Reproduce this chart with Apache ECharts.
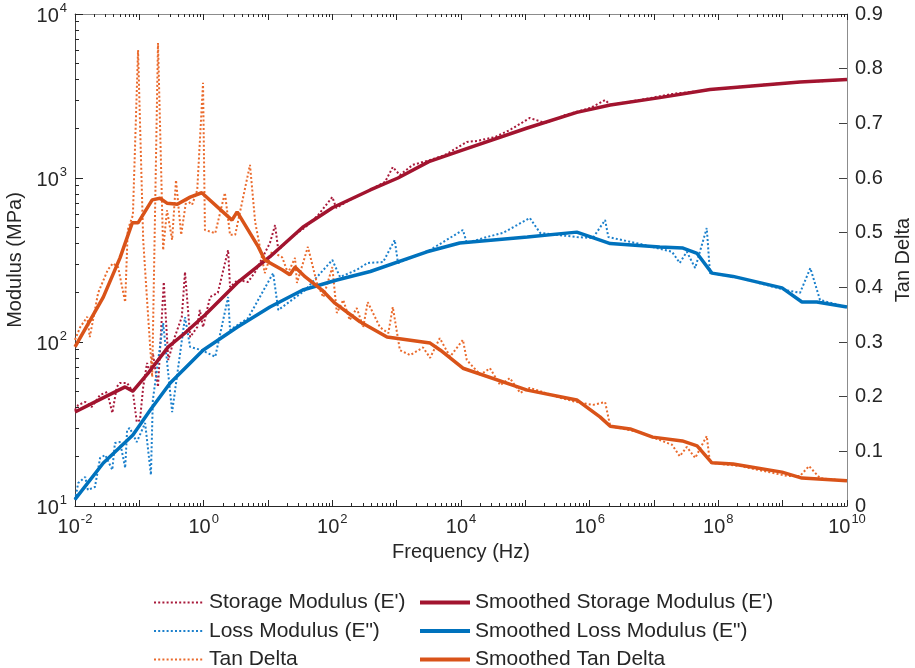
<!DOCTYPE html>
<html>
<head>
<meta charset="utf-8">
<script src="https://cdn.jsdelivr.net/npm/echarts@6/dist/echarts.min.js"></script>
<style>
html, body { margin: 0; padding: 0; background: #fff; }
#chart { width: 915px; height: 668px; }
</style>
</head>
<body>
<div id="chart"></div>
<script>
// 数据：每一对为 [log10(频率 Hz), log10(模量 MPa)] 或 [log10(频率 Hz), tanδ]
const storageRaw = [
    [-2.00, 1.585], [-1.95, 1.616], [-1.84, 1.634], [-1.74, 1.604], [-1.61, 1.677], [-1.50, 1.695],
    [-1.42, 1.567], [-1.35, 1.726], [-1.30, 1.750], [-1.19, 1.750], [-1.10, 1.695], [-1.04, 1.512],
    [-0.99, 1.524], [-0.94, 1.726], [-0.88, 1.872], [-0.83, 1.810], [-0.79, 1.933], [-0.71, 1.726],
    [-0.62, 2.366], [-0.55, 1.890], [-0.45, 2.030], [-0.34, 2.152], [-0.29, 2.427], [-0.21, 2.030],
    [-0.10, 2.091], [-0.06, 2.195], [-0.01, 2.091], [0.10, 2.274], [0.22, 2.300], [0.38, 2.561],
    [0.41, 2.335], [0.53, 2.378], [0.69, 2.366], [0.80, 2.427], [1.03, 2.604], [1.11, 2.713],
    [1.16, 2.561], [1.37, 2.640], [1.58, 2.700], [1.78, 2.774], [2.00, 2.884], [2.06, 2.817],
    [2.27, 2.866], [2.59, 2.927], [2.82, 2.976], [2.94, 3.067], [3.05, 3.018], [3.25, 3.080],
    [3.52, 3.110], [3.75, 3.140], [4.09, 3.220], [4.25, 3.226], [4.53, 3.250], [4.76, 3.293],
    [5.07, 3.366], [5.31, 3.335], [5.62, 3.384], [6.01, 3.427], [6.24, 3.476], [6.32, 3.445],
    [6.78, 3.476], [7.28, 3.512], [7.40, 3.518], [7.72, 3.530], [7.90, 3.540], [8.65, 3.567],
    [9.27, 3.585], [9.58, 3.590], [10.00, 3.600]
];
const lossRaw = [
    [-2.00, 1.037], [-1.95, 1.140], [-1.84, 1.177], [-1.80, 1.098], [-1.69, 1.116], [-1.61, 1.293],
    [-1.53, 1.311], [-1.42, 1.220], [-1.38, 1.384], [-1.30, 1.390], [-1.22, 1.232], [-1.19, 1.463],
    [-1.15, 1.476], [-1.04, 1.390], [-0.91, 1.506], [-0.82, 1.189], [-0.79, 1.646], [-0.63, 2.116],
    [-0.49, 1.573], [-0.29, 2.152], [-0.21, 1.970], [-0.03, 1.950], [0.18, 1.910], [0.38, 2.274],
    [0.41, 2.073], [0.69, 2.146], [1.08, 2.420], [1.16, 2.195], [1.58, 2.317], [2.00, 2.500],
    [2.12, 2.396], [2.38, 2.440], [2.55, 2.482], [2.79, 2.488], [2.97, 2.622], [3.02, 2.482],
    [3.52, 2.561], [4.03, 2.683], [4.09, 2.604], [4.40, 2.640], [4.65, 2.665], [5.07, 2.756],
    [5.23, 2.665], [5.80, 2.640], [6.05, 2.634], [6.24, 2.744], [6.29, 2.640], [6.78, 2.598],
    [7.28, 2.550], [7.40, 2.482], [7.51, 2.550], [7.64, 2.451], [7.82, 2.695], [7.87, 2.420],
    [8.34, 2.390], [9.04, 2.317], [9.27, 2.300], [9.43, 2.451], [9.58, 2.256], [10.00, 2.213]
];
const tanRaw = [
    [-2.00, 0.304], [-1.92, 0.327], [-1.81, 0.346], [-1.77, 0.309], [-1.64, 0.390], [-1.49, 0.432],
    [-1.41, 0.444], [-1.33, 0.437], [-1.22, 0.373], [-1.18, 0.505], [-1.10, 0.532], [-1.02, 0.834],
    [-0.94, 0.487], [-0.88, 0.377], [-0.80, 0.236], [-0.71, 0.847], [-0.63, 0.468], [-0.57, 0.541],
    [-0.49, 0.487], [-0.43, 0.596], [-0.35, 0.496], [-0.27, 0.560], [-0.18, 0.551], [-0.10, 0.578],
    [-0.01, 0.774], [0.02, 0.505], [0.18, 0.499], [0.33, 0.573], [0.41, 0.496], [0.49, 0.496],
    [0.72, 0.624], [0.80, 0.520], [0.95, 0.426], [1.06, 0.465], [1.22, 0.455], [1.31, 0.426],
    [1.42, 0.454], [1.45, 0.408], [1.62, 0.474], [1.76, 0.408], [1.86, 0.382], [2.00, 0.437],
    [2.07, 0.353], [2.17, 0.377], [2.27, 0.340], [2.38, 0.362], [2.48, 0.327], [2.55, 0.373],
    [2.74, 0.327], [2.87, 0.316], [2.94, 0.364], [3.05, 0.285], [3.21, 0.276], [3.41, 0.290],
    [3.52, 0.271], [3.67, 0.307], [3.83, 0.273], [4.03, 0.304], [4.09, 0.267], [4.30, 0.240],
    [4.45, 0.252], [4.61, 0.221], [4.76, 0.234], [4.92, 0.207], [5.07, 0.216], [5.31, 0.207],
    [5.54, 0.198], [5.80, 0.190], [6.05, 0.185], [6.24, 0.190], [6.32, 0.146], [6.78, 0.135],
    [7.28, 0.112], [7.40, 0.091], [7.51, 0.108], [7.64, 0.088], [7.82, 0.128], [7.87, 0.079],
    [8.34, 0.073], [9.07, 0.055], [9.27, 0.055], [9.41, 0.073], [9.58, 0.051], [10.00, 0.046]
];
const storageSmoothRaw = [
    [-2.00, 1.573], [-1.61, 1.650], [-1.22, 1.726], [-1.10, 1.700], [-0.85, 1.817], [-0.55, 1.970],
    [-0.29, 2.055], [0.02, 2.165], [0.52, 2.360], [1.03, 2.520], [1.54, 2.700], [2.01, 2.820],
    [2.59, 2.927], [3.02, 3.000], [3.50, 3.100], [4.02, 3.170], [5.03, 3.305], [5.80, 3.400],
    [6.32, 3.445], [7.09, 3.490], [7.87, 3.540], [9.27, 3.585], [10.00, 3.600]
];
const lossSmoothRaw = [
    [-2.00, 1.040], [-1.56, 1.262], [-1.10, 1.433], [-0.83, 1.585], [-0.52, 1.750], [-0.01, 1.950],
    [0.52, 2.090], [1.03, 2.213], [1.54, 2.317], [2.07, 2.378], [2.59, 2.430], [3.47, 2.550],
    [3.98, 2.604], [5.03, 2.640], [5.80, 2.670], [6.32, 2.600], [7.09, 2.580], [7.45, 2.573],
    [7.67, 2.540], [7.90, 2.420], [8.23, 2.400], [8.99, 2.330], [9.30, 2.244], [9.53, 2.244],
    [10.00, 2.213]
];
const tanSmoothRaw = [
    [-2.00, 0.291], [-1.56, 0.382], [-1.30, 0.454], [-1.11, 0.518], [-1.02, 0.518], [-0.80, 0.560],
    [-0.68, 0.563], [-0.57, 0.554], [-0.41, 0.552], [-0.21, 0.565], [-0.03, 0.573], [0.44, 0.523],
    [0.52, 0.538], [0.69, 0.505], [0.85, 0.474], [0.95, 0.450], [1.22, 0.432], [1.34, 0.423],
    [1.42, 0.437], [1.58, 0.419], [1.84, 0.395], [2.04, 0.371], [2.43, 0.337], [2.85, 0.309],
    [3.52, 0.298], [3.68, 0.285], [4.03, 0.252], [5.03, 0.212], [5.80, 0.194], [6.16, 0.163],
    [6.32, 0.146], [6.63, 0.141], [6.98, 0.126], [7.44, 0.119], [7.67, 0.110], [7.90, 0.079],
    [8.23, 0.077], [8.99, 0.062], [9.30, 0.051], [10.00, 0.046]
];

// 刻度
const xDecades = [-2, -1, 0, 1, 2, 3, 4, 5, 6, 7, 8, 9, 10];
const yDecades = [1, 2, 3, 4];
const minorSteps = [2, 3, 4, 5, 6, 7, 8, 9];

const FONT = 'Liberation Sans, Arial, Helvetica, sans-serif';
const TXT = '#262626';
const DOT = [2, 2.2];

function majorVals(decades) {
    return decades.map(d => Math.pow(10, d));
}
function minorVals(decades) {
    const out = [];
    for (let i = 0; i < decades.length - 1; i++) {
        minorSteps.forEach(m => out.push(m * Math.pow(10, decades[i])));
    }
    return out;
}
function toLogLog(raw) {
    return raw.map(p => [Math.pow(10, p[0]), Math.pow(10, p[1])]);
}
function toLogLin(raw) {
    return raw.map(p => [Math.pow(10, p[0]), p[1]]);
}

const supRich = {
    b: { fontSize: 20, fontFamily: FONT, color: TXT, verticalAlign: 'bottom', lineHeight: 24 },
    s: { fontSize: 13, fontFamily: FONT, color: TXT, verticalAlign: 'bottom', lineHeight: 24, padding: [0, 0, 11, 1] }
};
function supLabel(v) {
    return '{b|10}{s|' + Math.round(Math.log10(v)) + '}';
}

function tickAxis(pos, vals, len, lineColor, showLine) {
    return {
        type: 'log', logBase: 10, position: pos,
        min: 0.01, max: 1e10,
        axisLine: { show: showLine, lineStyle: { color: lineColor, width: 1 } },
        axisTick: { show: true, inside: true, length: len, customValues: vals, lineStyle: { color: '#262626', width: 1 } },
        axisLabel: { show: false },
        splitLine: { show: false }
    };
}
function yTickAxis(vals, len) {
    return {
        type: 'log', logBase: 10, position: 'left',
        min: 10, max: 10000,
        axisLine: { show: false },
        axisTick: { show: true, inside: true, length: len, customValues: vals, lineStyle: { color: '#262626', width: 1 } },
        axisLabel: { show: false },
        splitLine: { show: false }
    };
}

const legendBase = {
    orient: 'vertical', top: 592, height: 100, padding: 0,
    itemWidth: 50, itemHeight: 14, itemGap: 7.5,
    itemStyle: { opacity: 0 },
    textStyle: { fontSize: 21, lineHeight: 20, color: TXT, fontFamily: FONT }
};

const chart = echarts.init(document.getElementById('chart'));

const option = {
    animation: false,
    backgroundColor: '#fff',
    textStyle: { fontFamily: FONT },
    grid: { left: 75, right: 68, top: 14, bottom: 162, containLabel: false, outerBoundsMode: 'none' },
    legend: [
        Object.assign({}, legendBase, {
            left: 153, width: 260,
            data: ["Storage Modulus (E')", 'Loss Modulus (E")', 'Tan Delta']
        }),
        Object.assign({}, legendBase, {
            left: 418, width: 400,
            lineStyle: { width: 4 },
            data: ["Smoothed Storage Modulus (E')", 'Smoothed Loss Modulus (E")', 'Smoothed Tan Delta']
        })
    ],
    xAxis: [
        {
            type: 'log', logBase: 10, position: 'bottom',
            min: 0.01, max: 1e10, interval: 2,
            name: 'Frequency (Hz)', nameLocation: 'middle', nameGap: 36,
            nameTextStyle: { fontSize: 20, color: TXT, fontFamily: FONT },
            axisLine: { show: true, lineStyle: { color: '#262626', width: 1 } },
            axisTick: { show: true, inside: true, length: 6, customValues: majorVals(xDecades), lineStyle: { color: '#262626' } },
            axisLabel: { show: true, margin: 7, formatter: supLabel, rich: supRich },
            splitLine: { show: false }
        },
        tickAxis('bottom', minorVals(xDecades), 3, '#262626', false),
        tickAxis('top', majorVals(xDecades), 6, '#8c8c8c', true),
        tickAxis('top', minorVals(xDecades), 3, '#8c8c8c', false)
    ],
    yAxis: [
        {
            type: 'log', logBase: 10, position: 'left',
            min: 10, max: 10000, interval: 1,
            name: 'Modulus (MPa)', nameLocation: 'middle', nameGap: 35, nameRotate: 90,
            nameTextStyle: { fontSize: 20, color: TXT, fontFamily: FONT },
            axisLine: { show: true, lineStyle: { color: '#404040', width: 1 } },
            axisTick: { show: true, inside: true, length: 8, lineStyle: { color: '#262626' } },
            axisLabel: { show: true, margin: 8, formatter: supLabel, rich: supRich },
            splitLine: { show: false }
        },
        {
            type: 'value', position: 'right',
            min: 0, max: 0.9, interval: 0.1,
            name: 'Tan Delta', nameLocation: 'middle', nameGap: 46, nameRotate: 90,
            nameTextStyle: { fontSize: 20, color: TXT, fontFamily: FONT },
            axisLine: { show: true, lineStyle: { color: '#8c8c8c', width: 1 } },
            axisTick: { show: true, inside: true, length: 8, lineStyle: { color: '#404040' } },
            axisLabel: { show: true, margin: 8, fontSize: 20, color: TXT, fontFamily: FONT },
            splitLine: { show: false }
        },
        yTickAxis(minorVals(yDecades), 4)
    ],
    series: [
        {
            name: "Storage Modulus (E')", type: 'line', xAxisIndex: 0, yAxisIndex: 0,
            data: toLogLog(storageRaw), symbol: 'none',
            lineStyle: { color: '#A8193A', width: 2, type: DOT }, itemStyle: { color: '#A8193A' }
        },
        {
            name: 'Loss Modulus (E")', type: 'line', xAxisIndex: 0, yAxisIndex: 0,
            data: toLogLog(lossRaw), symbol: 'none',
            lineStyle: { color: '#1C80CC', width: 2, type: DOT }, itemStyle: { color: '#1C80CC' }
        },
        {
            name: 'Tan Delta', type: 'line', xAxisIndex: 0, yAxisIndex: 1,
            data: toLogLin(tanRaw), symbol: 'none',
            lineStyle: { color: '#EA6A2C', width: 2, type: DOT }, itemStyle: { color: '#EA6A2C' }
        },
        {
            name: "Smoothed Storage Modulus (E')", type: 'line', xAxisIndex: 0, yAxisIndex: 0,
            data: toLogLog(storageSmoothRaw), symbol: 'none',
            lineStyle: { color: '#A2142F', width: 3.5 }, itemStyle: { color: '#A2142F' }
        },
        {
            name: 'Smoothed Loss Modulus (E")', type: 'line', xAxisIndex: 0, yAxisIndex: 0,
            data: toLogLog(lossSmoothRaw), symbol: 'none',
            lineStyle: { color: '#0072BD', width: 3.5 }, itemStyle: { color: '#0072BD' }
        },
        {
            name: 'Smoothed Tan Delta', type: 'line', xAxisIndex: 0, yAxisIndex: 1,
            data: toLogLin(tanSmoothRaw), symbol: 'none',
            lineStyle: { color: '#D95319', width: 3.5 }, itemStyle: { color: '#D95319' }
        }
    ]
};

chart.setOption(option);
</script>
</body>
</html>
